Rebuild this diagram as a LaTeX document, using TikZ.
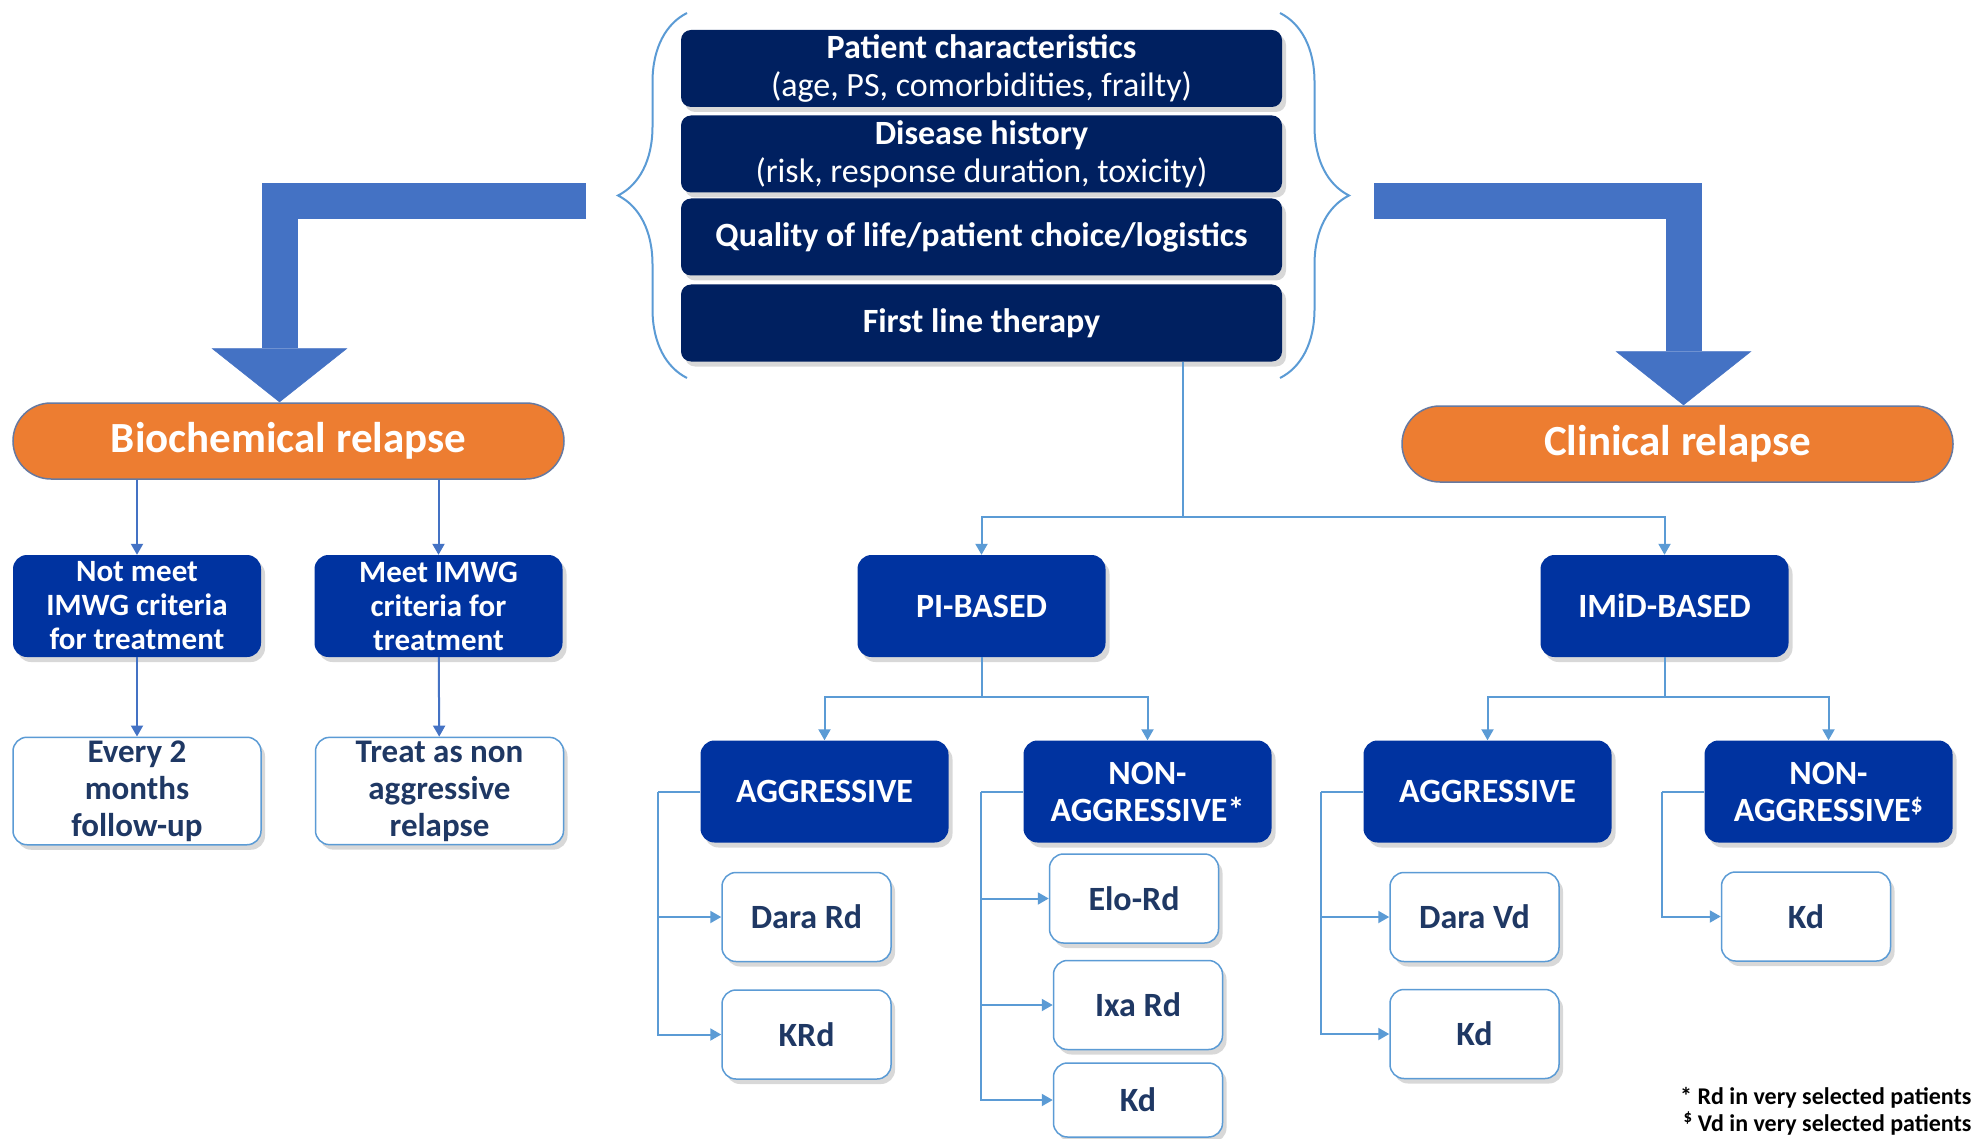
\documentclass[tikz,border=0pt]{standalone}
\usepackage{fontspec}
\setmainfont{Carlito}
\usetikzlibrary{arrows.meta,decorations.pathreplacing,shadows}
\definecolor{navy}{RGB}{0,32,96}
\definecolor{royal}{RGB}{0,51,160}
\definecolor{arrowblue}{RGB}{68,114,196}
\definecolor{lineblue}{RGB}{91,155,213}
\definecolor{relorange}{RGB}{237,125,49}
\definecolor{textnavy}{RGB}{31,56,100}
\tikzstyle{boxshadow}=[drop shadow={shadow xshift=4pt, shadow yshift=-5pt, opacity=0.3}]
\tikzstyle{topbox}=[rectangle, rounded corners=10pt, fill=navy, text=white, minimum width=601pt, minimum height=77pt, align=center, font=\fontsize{34}{38}\selectfont, boxshadow]
\tikzstyle{relapse}=[rectangle, rounded corners=38pt, fill=relorange, draw=navy!60, line width=1.5pt, text=white, minimum width=551pt, minimum height=76pt, font=\bfseries\fontsize{43}{48}\selectfont]
\tikzstyle{bluebox}=[rectangle, rounded corners=14pt, fill=royal, text=white, minimum width=248pt, minimum height=102pt, align=center, font=\bfseries\fontsize{34}{37}\selectfont, boxshadow]
\tikzstyle{critbox}=[bluebox, font=\bfseries\fontsize{31}{34}\selectfont]
\tikzstyle{whitebox}=[rectangle, rounded corners=14pt, fill=white, draw=lineblue, line width=1.5pt, text=textnavy, minimum width=248pt, minimum height=102pt, align=center, font=\bfseries\fontsize{33}{37}\selectfont, boxshadow]
\tikzstyle{drugbox}=[whitebox, minimum width=169pt, minimum height=89pt, font=\bfseries\fontsize{34}{38}\selectfont]
\tikzstyle{bigarrow}=[draw=arrowblue, line width=36pt, -{Triangle[width=136pt,length=54pt,line width=0.5pt]}]
\tikzstyle{curly}=[draw=lineblue, line width=2pt, decorate, decoration={brace, amplitude=69pt}]
\tikzstyle{elbow}=[to path={-| (\tikztotarget)}]
\tikzstyle{sidebranch}=[to path={|- (\tikztotarget)}]
\tikzstyle{footnote}=[anchor=east, font=\bfseries\fontsize{24}{25}\selectfont]
\newcommand{\topbox}{\node[topbox]}
\newcommand{\bluebox}{\node[bluebox]}
\newcommand{\whitebox}{\node[whitebox]}
\newcommand{\drugbox}{\node[drugbox]}

\begin{document}
\begin{tikzpicture}[x=1pt, y=-1pt
  ,every edge/.style={draw=lineblue, line width=2pt, -{Triangle[width=12pt,length=11pt]}}
]
\path[use as bounding box, fill=white] (0,0) rectangle (1977,1139);

\topbox (pat) at (981.5,68.5) {\textbf{Patient characteristics}\\(age, PS, comorbidities, frailty)};
\topbox (hist) at (981.5,154) {\textbf{Disease history}\\(risk, response duration, toxicity)};
\topbox (qol) at (981.5,237) {\textbf{Quality of life/patient choice/logistics}};
\topbox (flt) at (981.5,323) {\textbf{First line therapy}};
\path[curly] (687,378) -- (687,13);
\path[curly] (1280,13) -- (1280,378);

\node[relapse] (bio) at (288.5,441) {Biochemical relapse};
\node[relapse] (clin) at (1677.5,444) {Clinical relapse};
\coordinate (lstart) at (586,201);
\coordinate (rstart) at (1374,201);
\coordinate (ltip) at ([xshift=-9pt]bio.north);
\coordinate (rtip) at ([xshift=6pt]clin.north);
\draw[bigarrow] (lstart) -| (ltip);
\draw[bigarrow] (rstart) -| (rtip);

\node[critbox] (notmeet) at (137,606) {Not meet\\IMWG criteria\\for treatment};
\node[critbox] (meet) at (438.5,606) {Meet IMWG\\criteria for\\treatment};
\whitebox (every2) at (137,791) {Every 2\\months\\follow-up};
\whitebox (treat) at (439.5,791) {Treat as non\\aggressive\\relapse};

\bluebox (pi) at (981.5,606) {PI-BASED};
\bluebox (imid) at (1664.5,606) {IMiD-BASED};
\bluebox (pagg) at (824.5,791.5) {AGGRESSIVE};
\bluebox (pnon) at (1147.5,791.5) {NON-\\AGGRESSIVE*};
\bluebox (iagg) at (1487.5,791.5) {AGGRESSIVE};
\bluebox (inon) at (1828.5,791.5) {NON-\\AGGRESSIVE\textsuperscript{\$}};

\drugbox (darard) at (806.5,917) {Dara Rd};
\drugbox (krd) at (806.5,1034.5) {KRd};
\drugbox (elord) at (1134,898.5) {Elo-Rd};
\drugbox (ixard) at (1138,1005) {Ixa Rd};
\drugbox[minimum height=74pt] (kdp) at (1138,1100) {Kd};
\drugbox (dvd) at (1474.5,917) {Dara Vd};
\drugbox (kdi) at (1474.5,1034) {Kd};
\drugbox (kdn) at (1806,916.5) {Kd};

\coordinate (split) at (1183,517);
\coordinate (pfork) at (981.5,697);
\coordinate (ifork) at (1664.5,697);
\coordinate (pa) at (658,791.5);
\coordinate (pn) at (981,791.5);
\coordinate (ia) at (1321,791.5);
\coordinate (in) at (1662,791.5);

\draw[lineblue, line width=2pt] (flt.south -| split) -- (split);
\draw[lineblue, line width=2pt] (pi) -- (pfork) (imid) -- (ifork);
\draw[lineblue, line width=2pt] (pagg) -- (pa) (pnon) -- (pn) (iagg) -- (ia) (inon) -- (in);
\path[every edge/.append style={arrowblue}]
(bio.south -| notmeet) edge (notmeet)
(bio.south -| meet) edge (meet)
(notmeet) edge (every2)
(meet) edge (treat)
;
\path
(split) edge[elbow] (pi) edge[elbow] (imid)
(pfork) edge[elbow] (pagg) edge[elbow] (pnon)
(ifork) edge[elbow] (iagg) edge[elbow] (inon)
(pa) edge[sidebranch] (darard) edge[sidebranch] (krd)
(pn) edge[sidebranch] (elord) edge[sidebranch] (ixard) edge[sidebranch] (kdp)
(ia) edge[sidebranch] (dvd) edge[sidebranch] (kdi)
(in) edge[sidebranch] (kdn)
;

\node[footnote] (note1) at (1975,1098) {* Rd in very selected patients};
\node[footnote] (note2) at (1975,1123) {\textsuperscript{\$} Vd in very selected patients};
\end{tikzpicture}
\end{document}
